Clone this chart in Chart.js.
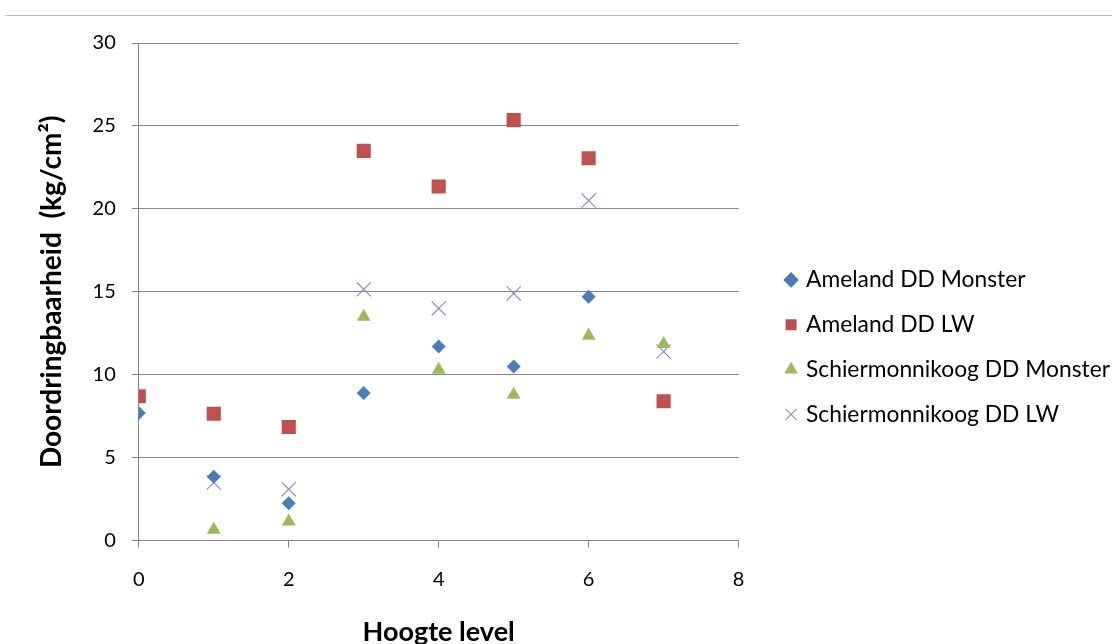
<!DOCTYPE html>
<html>
<head>
<meta charset="utf-8">
<script src="https://cdn.jsdelivr.net/npm/chart.js@4"></script>
<style>
  html, body { margin: 0; padding: 0; background: #fff; }
  #wrap { position: relative; width: 1112px; height: 644px; }
  #topline { position: absolute; left: 5px; right: 0; top: 15px; border-top: 1px solid #c0c0c0; }
</style>
</head>
<body>
<div id="wrap">
  <div id="topline"></div>
  <canvas id="scatter-chart" width="1112" height="644"></canvas>
</div>
<script>
var levels = [0, 1, 2, 3, 4, 5, 6, 7];
var amelandMonster = [7.7, 3.85, 2.25, 8.9, 11.7, 10.5, 14.7, null];
var amelandLW = [8.7, 7.65, 6.85, 23.5, 21.35, 25.35, 23.05, 8.4];
var schierMonster = [null, 0.65, 1.15, 13.5, 10.3, 8.8, 12.35, 11.85];
var schierLW = [null, 3.5, 3.1, 15.15, 14.0, 14.9, 20.5, 11.4];
var xTicks = [0, 2, 4, 6, 8];

function points(values) {
    var out = [];
    for (var i = 0; i < levels.length; i++) {
        if (values[i] !== null) out.push({ x: levels[i], y: values[i] });
    }
    return out;
}

var font = "Lato, 'Open Sans', sans-serif";
var ctx = document.getElementById("scatter-chart");

var ScatterChart = new Chart(ctx, {
    type: 'scatter',
    data: {
        datasets: [{
            label: "Ameland DD Monster",
            data: points(amelandMonster),
            pointStyle: 'rectRot',
            pointRadius: 7,
            backgroundColor: "#4a7ebb",
            borderColor: "#4a7ebb",
            borderWidth: 0
        }, {
            label: "Ameland DD LW",
            data: points(amelandLW),
            pointStyle: 'rect',
            pointRadius: 10,
            backgroundColor: "#c0504d",
            borderColor: "#c0504d",
            borderWidth: 0
        }, {
            label: "Schiermonnikoog DD Monster",
            data: points(schierMonster),
            pointStyle: 'triangle',
            pointRadius: 8,
            backgroundColor: "#9bbb59",
            borderColor: "#9bbb59",
            borderWidth: 0
        }, {
            label: "Schiermonnikoog DD LW",
            data: points(schierLW),
            pointStyle: 'crossRot',
            pointRadius: 10,
            backgroundColor: "#9a88c4",
            borderColor: "#9a88c4",
            borderWidth: 1.2
        }]
    },
    options: {
        responsive: false,
        animation: false,
        layout: { padding: { top: 43, left: 16, right: -8, bottom: -4 } },
        plugins: {
            tooltip: { enabled: false },
            legend: {
                position: 'right',
                maxWidth: 420,
                // empty title only pushes the items down a little
                title: { display: true, text: '', font: { size: 1 }, padding: 1 },
                labels: {
                    usePointStyle: true,
                    boxWidth: 7,
                    boxHeight: 11,
                    padding: 22,
                    color: '#000',
                    font: { family: font, size: 22.8 }
                }
            }
        },
        scales: {
            x: {
                type: 'linear',
                min: 0,
                max: 8,
                afterBuildTicks: function (axis) {
                    axis.ticks = xTicks.map(function (v) { return { value: v }; });
                },
                grid: { drawOnChartArea: false, drawTicks: true, tickLength: 7, color: '#868686' },
                border: { color: '#868686' },
                ticks: { color: '#000', font: { family: font, size: 20 }, padding: 20 },
                title: {
                    display: true,
                    text: 'Hoogte level',
                    color: '#000',
                    font: { family: font, size: 27, weight: 'bold' },
                    padding: { top: 4, bottom: 0 }
                }
            },
            y: {
                min: 0,
                max: 30,
                ticks: { stepSize: 5, color: '#000', font: { family: font, size: 20 }, padding: 16 },
                grid: { color: '#868686', tickLength: 7 },
                border: { color: '#868686' },
                title: {
                    display: true,
                    text: 'Doordringbaarheid  (kg/cm²)',
                    color: '#000',
                    font: { family: font, size: 28, weight: 'bold' },
                    padding: { top: 19, bottom: 8 }
                }
            },
            // empty spacer between plot and legend
            gap: {
                position: 'right',
                display: true,
                grid: { display: false, drawTicks: false },
                border: { display: false },
                ticks: { display: false },
                afterFit: function (scale) { scale.width = 27; }
            }
        }
    }
});
</script>
</body>
</html>
